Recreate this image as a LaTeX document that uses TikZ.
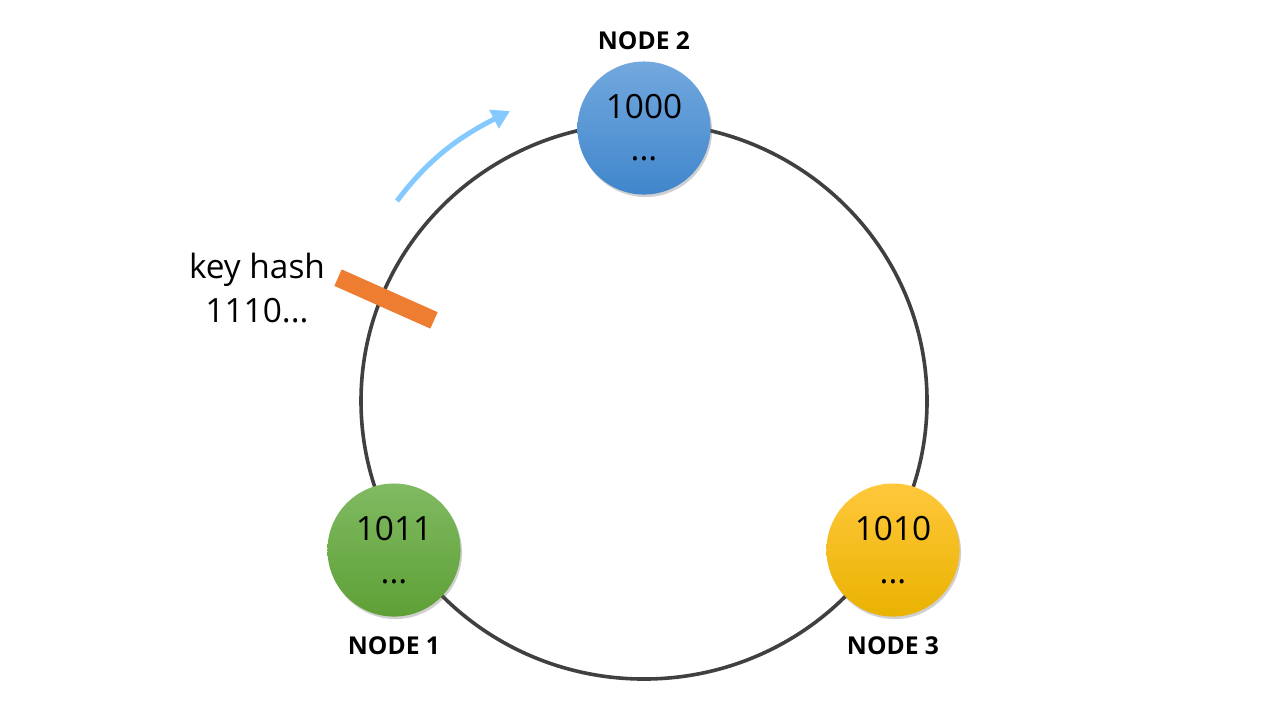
\documentclass[tikz,border=0pt]{standalone}
\usepackage{fontspec}
\setmainfont{Open Sans}
\usetikzlibrary{arrows.meta,shadows}
\definecolor{ringgray}{RGB}{64,64,64}
\definecolor{bluetop}{RGB}{114,168,222}
\definecolor{bluebot}{RGB}{64,134,204}
\definecolor{greentop}{RGB}{128,186,98}
\definecolor{greenbot}{RGB}{94,160,54}
\definecolor{yellowtop}{RGB}{255,200,60}
\definecolor{yellowbot}{RGB}{234,178,0}
\definecolor{hashorange}{RGB}{237,125,49}
\definecolor{moveblue}{RGB}{133,202,255}

\begin{document}
\begin{tikzpicture}[
  x=0.01cm,y=-0.01cm,
  peer/.style={circle, minimum size=1.33cm, inner sep=0pt, align=center, font=\fontsize{9.5}{12}\selectfont, drop shadow={opacity=0.3, shadow xshift=0.015cm, shadow yshift=-0.025cm, fill=black!60}},
  tag/.style={font=\bfseries\fontsize{7}{8}\selectfont},
  ring/.style={draw=ringgray, line width=0.036cm},
  hashmark/.style={fill=hashorange, minimum width=1.05cm, minimum height=0.18cm, inner sep=0pt},
  move/.style={draw=moveblue, line width=0.05cm, -{Triangle[length=0.18cm, width=0.2cm]}}
]
\fill[white] (0,0) rectangle (1280,720);
\useasboundingbox (0,0) rectangle (1280,720);
\draw[ring] (644,401) ellipse [x radius=283, y radius=278];
\node[peer, top color=bluetop, bottom color=bluebot] (n2) at (644,128) {1000\\...};
\node[peer, top color=greentop, bottom color=greenbot] (n1) at (394,550) {1011\\...};
\node[peer, top color=yellowtop, bottom color=yellowbot] (n3) at (893,550) {1010\\...};
\node[tag] (t2) at (644,41) {NODE 2};
\node[tag] (t1) at (394,646) {NODE 1};
\node[tag] (t3) at (893,646) {NODE 3};
\node[hashmark, rotate=-24] (mark) at (386,299) {};
\node[align=center, font=\fontsize{9.5}{12.5}\selectfont] (key) at (257,288) {key hash\\1110...};
\coordinate (from) at (397,201);
\coordinate (to) at (510,111);
\draw[move] (from) .. controls (430,157) and (461,136) .. (to);
\end{tikzpicture}
\end{document}
